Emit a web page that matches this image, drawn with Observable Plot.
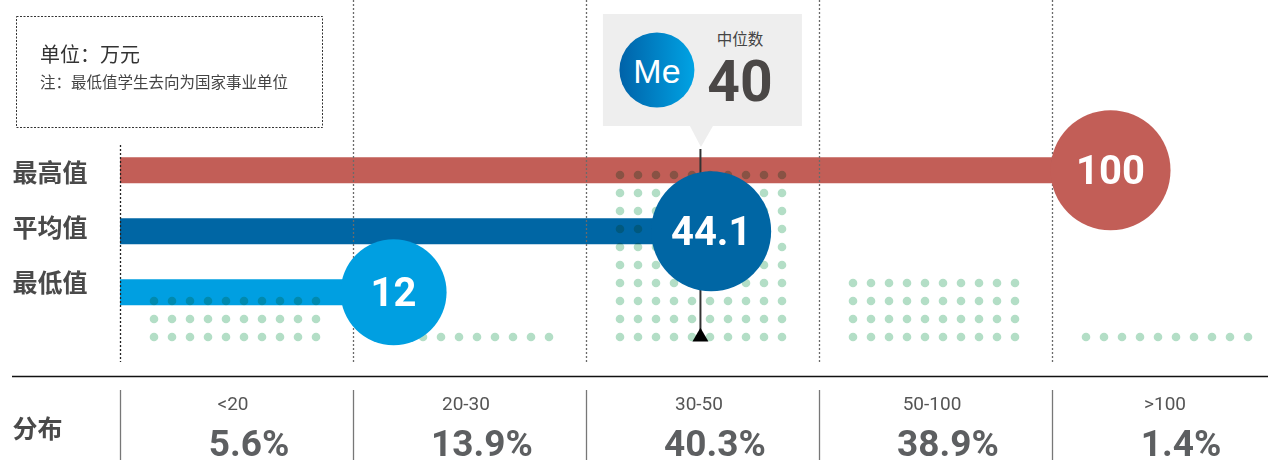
<!DOCTYPE html>
<html>
<head>
<meta charset="utf-8">
<script src="https://cdn.jsdelivr.net/npm/d3@7"></script>
<script src="https://cdn.jsdelivr.net/npm/@observablehq/plot@0.6"></script>
<style>
  body { margin: 0; background: #fff; }
  #wrap { position: relative; width: 1268px; height: 460px; overflow: hidden; }
</style>
</head>
<body>
<div id="wrap"></div>
<script>
// ---------- data ----------
const categories = ["<20", "20-30", "30-50", "50-100", ">100"];
const shares = [5.6, 13.9, 40.3, 38.9, 1.4];
const dotRowsPerCategory = [3, 1, 10, 4, 1];
const dotsPerRow = 10;
const seriesNames = ["最高值", "平均值", "最低值"];
const seriesValues = [100, 44.1, 12];
const medianValue = 40;
const medianLabel = "中位数";
const medianBadge = "Me";
const unitNote = "单位：万元";
const footNote = "注：最低值学生去向为国家事业单位";
const distLabel = "分布";

// ---------- styles / layout ----------
const seriesColors = ["#c25e57", "#0066a4", "#009fe1"];
const seriesRadii = [60, 60, 53];
const dotColor = "#b3dec6";
const numFont = "Roboto, 'DejaVu Sans', sans-serif";
const cjkFont = "'Noto Sans CJK SC', sans-serif";
const BAND = 233;            // px per distribution band
const X0 = 120;              // left edge of first band
const Y0 = 336.5, ROW = 18;  // baseline dot row and dot spacing (px)
const yu = px => (Y0 - px) / ROW;               // px layout -> y units (dot rows)
const rowY = i => yu(169.7 + 61 * i);            // bar rows
const labelY = i => yu(173.5 + 55 * i);          // row label positions
// illustrative placement of values along the bands (as in the original graphic)
const place = d3.scaleLinear().domain([0, 12, 40, 44.1, 100]).range([0, 1.172, 2.489, 2.535, 4.249]);

const series = seriesNames.map((name, i) => ({ name, value: seriesValues[i], i }));
const dots = [];
categories.forEach((c, b) => {
  for (let k = 0; k < dotRowsPerCategory[b]; k++)
    for (let j = 0; j < dotsPerRow; j++) dots.push({ band: b, col: j, row: k });
});
const dotStep = ROW / BAND;
const bands = categories.map((c, i) => ({ c, i, share: shares[i] }));

const plot = Plot.plot({
  width: 1268, height: 460,
  marginLeft: 12, marginRight: 0, marginTop: 0, marginBottom: 0,
  x: { domain: [0, 5], range: [X0, X0 + 5 * BAND], axis: null },
  y: { domain: [0, 1], range: [Y0, Y0 - ROW], axis: null },
  style: { fontFamily: numFont, background: "transparent" },
  marks: [
    // bars
    ...series.map(s => Plot.ruleY([s], {
      y: d => rowY(d.i), x1: 0, x2: d => place(d.value),
      stroke: seriesColors[s.i], strokeWidth: 26
    })),
    // band separators (dotted)
    Plot.ruleX([1, 2, 3, 4], { y1: yu(0), y2: yu(362), stroke: "#6a6a6a", strokeWidth: 1.3, strokeDasharray: "2,2" }),
    Plot.ruleX([0], { y1: yu(145), y2: yu(362), stroke: "#222", strokeWidth: 1.3, strokeDasharray: "2,2" }),
    // distribution dots
    Plot.dot(dots, {
      x: d => d.band + 0.5 + (d.col - (dotsPerRow - 1) / 2) * dotStep,
      y: "row", r: 4.3, fill: dotColor, mixBlendMode: "multiply", dx: -2
    }),
    // median line
    Plot.ruleX([medianValue], { x: d => place(d), y1: yu(149), y2: yu(330), stroke: "#333", strokeWidth: 2 }),
    // value circles
    ...series.map(s => Plot.dot([s], {
      x: d => place(d.value), y: d => rowY(d.i), r: seriesRadii[s.i], fill: seriesColors[s.i]
    })),
    Plot.text(series, {
      x: d => place(d.value), y: d => rowY(d.i), text: d => String(d.value),
      fill: "white", fontSize: 40, fontWeight: 700, fontFamily: numFont, dy: 1
    }),
    // median marker
    Plot.dot([medianValue], { x: d => place(d), y: 0, symbol: "triangle", r: 5.94, fill: "#000" }),
    // row labels
    Plot.text(series, {
      frameAnchor: "left", y: d => labelY(d.i), text: "name", textAnchor: "start",
      fontSize: 25, fontWeight: 700, fill: "#4a4a4a", fontFamily: cjkFont, letterSpacing: 1
    }),
    // distribution table
    Plot.ruleY([yu(376)], { stroke: "#111", strokeWidth: 1.5 }),
    Plot.ruleX([0, 1, 2, 3, 4], { y1: yu(390), y2: yu(462), stroke: "#777", strokeWidth: 1.3 }),
    Plot.text([distLabel], {
      frameAnchor: "left", y: yu(429), text: d => d, textAnchor: "start",
      fontSize: 25, fontWeight: 700, fill: "#4a4a4a", fontFamily: cjkFont
    }),
    Plot.text(bands, {
      x: d => d.i + 0.5, y: yu(403), text: "c", fontSize: 19, fill: "#555", fontFamily: numFont, dx: -4
    }),
    Plot.text(bands, {
      x: d => d.i + 0.5, y: yu(444), text: d => d.share.toFixed(1) + "%",
      fontSize: 37, fontWeight: 700, fill: "#5d5f61", fontFamily: numFont, dx: 12
    })
  ]
});
document.getElementById("wrap").appendChild(plot);

// ---------- annotations: unit note box + median callout ----------
const xs = plot.scale("x");
const xpx = v => (xs && xs.apply) ? xs.apply(v) : d3.scaleLinear([0, 5], [X0, X0 + 5 * BAND])(v);
const svg = d3.select(plot);
const defs = svg.append("defs");
const grad = defs.append("linearGradient").attr("id", "meGrad").attr("x1", 0).attr("x2", 1).attr("y1", 0).attr("y2", 0);
grad.append("stop").attr("offset", 0).attr("stop-color", "#0062a8");
grad.append("stop").attr("offset", 1).attr("stop-color", "#00a3e4");

const note = svg.append("g").attr("text-anchor", "start");
note.append("rect").attr("x", 16.5).attr("y", 16.5).attr("width", 306).attr("height", 111)
  .attr("fill", "none").attr("stroke", "#333").attr("stroke-width", 1).attr("stroke-dasharray", "2,1.5");
note.append("text").attr("x", 40).attr("y", 62).attr("text-anchor", "start").text(unitNote)
  .attr("font-family", cjkFont).attr("font-size", 20).attr("fill", "#333");
note.append("text").attr("x", 40).attr("y", 88).attr("text-anchor", "start").text(footNote)
  .attr("font-family", cjkFont).attr("font-size", 15.5).attr("fill", "#444");

const mx = xpx(place(medianValue));
const tip = svg.append("g").attr("transform", `translate(${mx},0)`);
tip.append("rect").attr("x", -97).attr("y", 14).attr("width", 199).attr("height", 112).attr("fill", "#eeeeee");
tip.append("path").attr("d", "M-10,126L13,126L1,147Z").attr("fill", "#eeeeee");
tip.append("circle").attr("cx", -43).attr("cy", 70).attr("r", 37.5).attr("fill", "url(#meGrad)");
tip.append("text").attr("x", -43).attr("y", 82.5).attr("text-anchor", "middle").text(medianBadge)
  .attr("font-family", "'Liberation Sans', Arial, sans-serif").attr("font-size", 34).attr("fill", "#fff");
tip.append("text").attr("x", 40).attr("y", 45).attr("text-anchor", "middle").text(medianLabel)
  .attr("font-family", cjkFont).attr("font-size", 15.5).attr("fill", "#444");
tip.append("text").attr("x", 40).attr("y", 101).attr("text-anchor", "middle").text(String(medianValue))
  .attr("font-family", numFont).attr("font-size", 57).attr("font-weight", 700).attr("fill", "#4a4746");
</script>
</body>
</html>
